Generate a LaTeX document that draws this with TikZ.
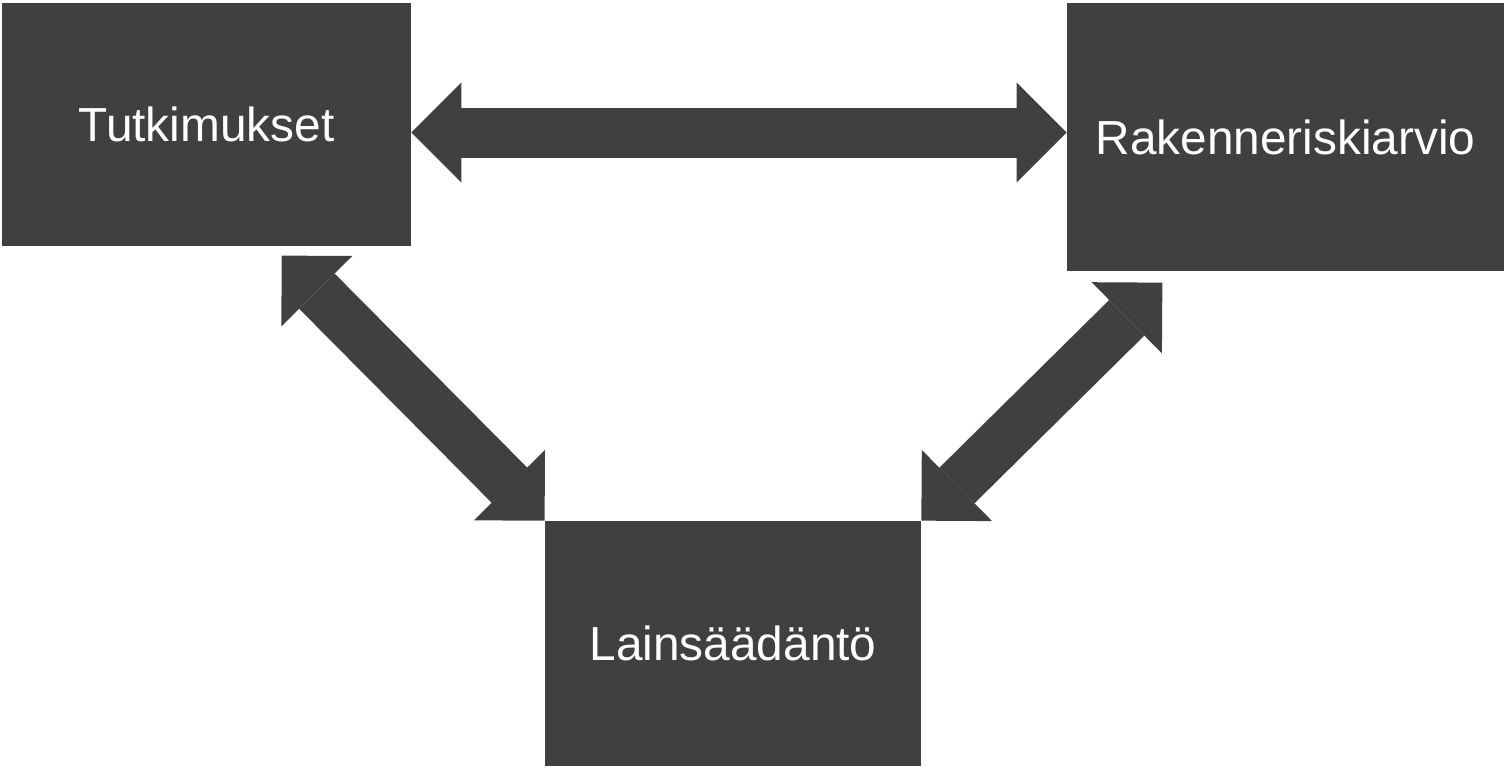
\documentclass[tikz,border=0pt]{standalone}
\usepackage{fontspec}
\setmainfont{Liberation Sans}
\usepackage{tikz}
\usetikzlibrary{positioning,arrows.meta}
\definecolor{boxgray}{HTML}{404042}

\begin{document}
\begin{tikzpicture}[box/.style={rectangle, fill=boxgray, text=white, inner sep=0pt, align=center, font=\fontsize{27.2}{32}\selectfont},blockarrow/.style={draw=boxgray, line width=1cm, {Triangle[length=1cm, width=2cm, line width=0pt]}-{Triangle[length=1cm, width=2cm, line width=0pt]}}]
  \useasboundingbox (0,0) rectangle (30.08,-15.38);
  \node[box, minimum width=8.18cm, minimum height=4.86cm] (tut) at (4.13,-2.49) {Tutkimukset};
  \node[box, minimum width=8.74cm, minimum height=5.36cm] (rak) at (25.71,-2.74) {Rakenneriskiarvio};
  \node[box, minimum width=7.52cm, minimum height=4.90cm] (lain) at (14.66,-12.87) {Lains\"a\"ad\"ant\"o};
  % free ends of the arrows
  \coordinate (hl) at ([yshift=-0.16cm]tut.east);
  \coordinate (hr) at (hl -| rak.west);
  \coordinate (dl) at ([shift={(-5.26,5.30)}]lain.north west);
  \coordinate (dr) at ([shift={(4.82,4.76)}]lain.north east);
  \draw[blockarrow] (hl) -- (hr);
  \draw[blockarrow] (dl) -- (lain.north west);
  \draw[blockarrow] (dr) -- (lain.north east);
\end{tikzpicture}
\end{document}
